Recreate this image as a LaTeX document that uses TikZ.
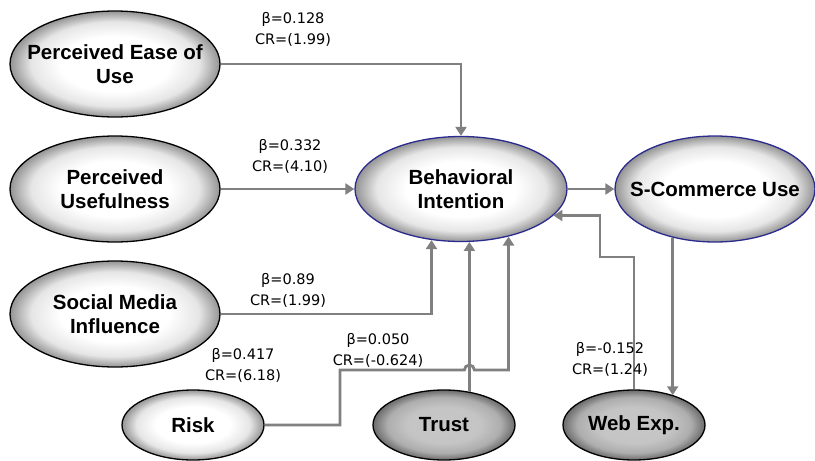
\documentclass[tikz,border=0pt]{standalone}
\usepackage{fontspec}
\setmainfont{Liberation Sans}
\newfontfamily\coeffont{DejaVu Sans}
\usetikzlibrary{arrows.meta,positioning,calc,shapes.geometric}
\definecolor{arrowgrey}{HTML}{808080}
\definecolor{ovalnavy}{HTML}{2B2B8F}
\pgfdeclareradialshading{lightoval}{\pgfpoint{0bp}{0bp}}{color(0bp)=(white); color(13bp)=(white); color(20bp)=(black!10); color(25bp)=(black!42); color(50bp)=(black!42)}
\pgfdeclareradialshading{darkoval}{\pgfpoint{0bp}{0bp}}{color(0bp)=(black!22); color(13bp)=(black!23); color(20bp)=(black!32); color(25bp)=(black!58); color(50bp)=(black!58)}

\begin{document}
\begin{tikzpicture}[x=1pt, y=-1pt,
  oval/.style={ellipse, draw=black, line width=1.3pt, shading=lightoval, minimum width=210pt, minimum height=106pt, inner sep=0pt},
  smalloval/.style={oval, minimum width=142pt, minimum height=70pt},
  darkoval/.style={smalloval, shading=darkoval},
  keyoval/.style={oval, draw=ovalnavy},
  ovaltxt/.style={font=\bfseries\fontsize{20.5}{24}\selectfont, align=center, inner sep=0pt},
  coef/.style={font=\coeffont\fontsize{14.5}{21}\selectfont, align=center, inner sep=0pt},
  arr/.style={-{Triangle[length=9pt,width=11pt]}, line width=2.8pt, draw=arrowgrey}
]
\useasboundingbox (0,0) rectangle (815,461);

% Antecedents
\node[oval, label={[ovaltxt]center:Perceived Ease of\\Use}] (peou) at (115,64) {};
\node[oval, label={[ovaltxt]center:Perceived\\Usefulness}] (pu) at (115,189) {};
\node[oval, label={[ovaltxt]center:Social Media\\Influence}] (smi) at (115,314) {};
\node[smalloval, label={[ovaltxt]center:Risk}] (risk) at (193,425) {};
\node[darkoval, label={[ovaltxt]center:Trust}] (trust) at (444,425) {};
\node[darkoval, label={[ovaltxt]center:Web Exp.}] (webexp) at (634,425) {};

% Outcomes
\node[keyoval, minimum width=212pt, minimum height=105pt, label={[ovaltxt]center:Behavioral\\Intention}] (bi) at (461,189) {};
\node[keyoval, minimum width=200pt, label={[ovaltxt]center:S-Commerce Use}] (scu) at (715,189) {};

% Bend points
\coordinate (riskknee) at (340,370);
\coordinate (webknee) at (600,257);

% Paths
\draw[arr] (peou.east) -| (bi.north);
\draw[arr] (pu.east) -- (bi.west);
\draw[arr] (smi.east) -| (bi.240);
\draw[arr] (risk.east) -| (riskknee) -- ($(riskknee -| bi.279)+(-5pt,0)$) arc[start angle=180, end angle=0, radius=5pt] -- (riskknee -| bi.315) -- (bi.315);
\draw[arr] (bi.279 |- trust.53) -- (bi.279);
\draw[arr] (webexp.north) |- (webknee) |- (bi.344);
\draw[arr] (bi.east) -- (scu.west);
\draw[arr] (scu.229) -- (scu.229 |- webexp.37);

% Coefficients
\node[coef] (c1) at (293,29) {β=0.128\\CR=(1.99)};
\node[coef] (c2) at (290,156) {β=0.332\\CR=(4.10)};
\node[coef] (c3) at (288,290) {β=0.89\\CR=(1.99)};
\node[coef] (c4) at (243,365) {β=0.417\\CR=(6.18)};
\node[coef] (c5) at (378,350) {β=0.050\\CR=(-0.624)};
\node[coef] (c6) at (610,359) {β=-0.152\\CR=(1.24)};

\end{tikzpicture}
\end{document}
